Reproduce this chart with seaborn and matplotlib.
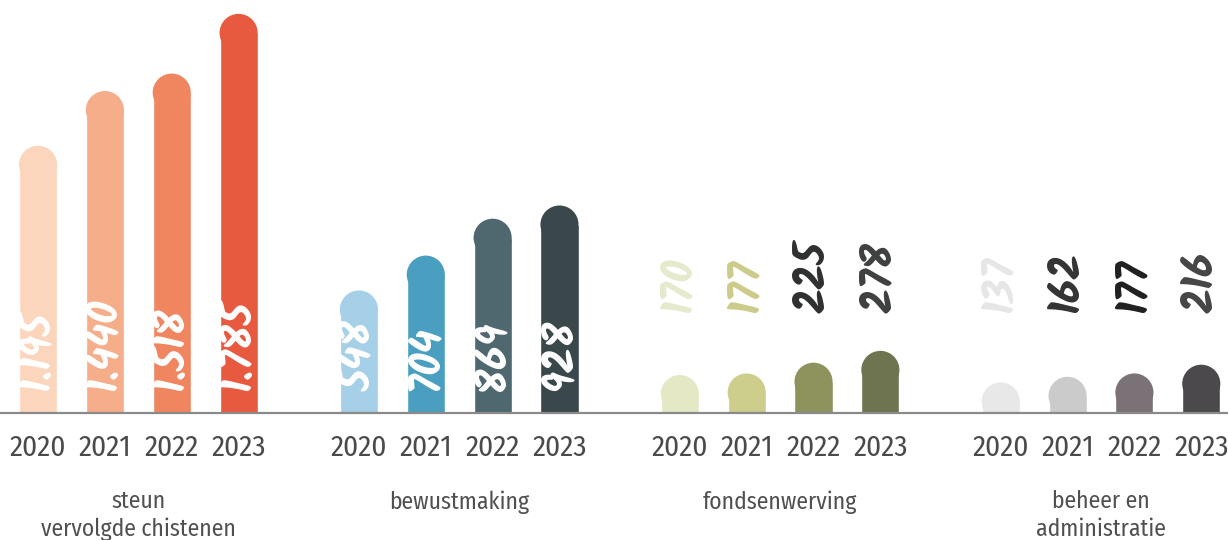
import numpy as np
import pandas as pd
import matplotlib.pyplot as plt
import seaborn as sns
from matplotlib.patches import Ellipse

# --- Data ---
groups = ["steun\nvervolgde chistenen", "bewustmaking", "fondsenwerving", "beheer en\nadministratie"]
years = ["2020", "2021", "2022", "2023"]
steun = [1195, 1440, 1518, 1785]
bewustmaking = [548, 704, 869, 928]
fondsenwerving = [170, 177, 225, 278]
beheer = [137, 162, 177, 216]
value_labels = [
    ["1.195", "1.440", "1.518", "1.785"],
    ["548", "704", "869", "928"],
    ["170", "177", "225", "278"],
    ["137", "162", "177", "216"],
]

bar_colors = [
    ["#fbd5bc", "#f6ad8a", "#ef8660", "#e85a40"],
    ["#a6cfe8", "#4a9fc0", "#4f676f", "#3a474b"],
    ["#e4e8c4", "#cdcd8c", "#8e935e", "#6e7450"],
    ["#e8e8e8", "#cbcbcb", "#7a7276", "#4b494b"],
]
label_colors = [
    ["white"] * 4,
    ["white"] * 4,
    ["#e6eacc", "#cccb8a", "#2e3030", "#3e4040"],
    ["#e6e6e6", "#333333", "#1f1f1f", "#454545"],
]

# --- Layout ---
group_step = 4.8
bar_width = 0.57
inside_labels = [True, True, False, False]

rows = []
for g, vals in enumerate([steun, bewustmaking, fondsenwerving, beheer]):
    for i, v in enumerate(vals):
        rows.append({"pos": g * group_step + i, "value": v, "key": f"{g}-{i}",
                     "color": bar_colors[g][i], "label": value_labels[g][i],
                     "lcolor": label_colors[g][i], "inside": inside_labels[g],
                     "year": years[i]})
df = pd.DataFrame(rows)

sns.set_theme(style="white")
narrow = ["Fira Sans Condensed", "DejaVu Sans"]
hand = ["Kalam", "DejaVu Sans"]
plt.rcParams["font.family"] = narrow

fig = plt.figure(figsize=(12.28, 5.4), dpi=100)
ax = fig.add_axes([0, 127 / 540, 1, 413 / 540])

sns.barplot(data=df, x="pos", y="value", hue="key",
            palette=dict(zip(df["key"], df["color"])),
            native_scale=True, width=bar_width, dodge=False,
            saturation=1, legend=False, ax=ax)

ax.set_xlim(-0.569, 17.80)
ax.set_ylim(0, 1847)
sns.despine(ax=ax, left=True, bottom=True)
ax.set_yticks([])
ax.set_xlabel("")
ax.set_ylabel("")

# rounded tops: convert half bar width to y data units
fig.canvas.draw()
x_px = ax.transData.transform([[0, 0], [1, 0]])
y_px = ax.transData.transform([[0, 0], [0, 1]])
px_per_x = x_px[1, 0] - x_px[0, 0]
px_per_y = y_px[1, 1] - y_px[0, 1]

for p in list(ax.patches):
    x0, w, h = p.get_x(), p.get_width(), p.get_height()
    r = (w / 2) * px_per_x / px_per_y
    p.set_height(h - r)
    ax.add_patch(Ellipse((x0 + w / 2, h - r), w, 2 * r,
                         facecolor=p.get_facecolor(), edgecolor="none"))

# baseline
ax.axhline(0, color="#8a8a8a", lw=1.6, clip_on=False, zorder=5)

# value labels
units_per_px = 1 / px_per_y
for _, row in df.iterrows():
    y = (22 if row["inside"] else 100) * units_per_px
    ax.text(row["pos"], y, row["label"], rotation=90, ha="center", va="bottom",
            color=row["lcolor"], fontsize=31, fontweight="bold",
            family=hand, zorder=6)

# year tick labels
ax.set_xticks(df["pos"], df["year"])
ax.tick_params(axis="x", length=0, pad=15, labelsize=21, labelcolor="#4a4a4a")

# group labels
for g, name in enumerate(groups):
    ax.text(g * group_step + 1.5, -77 / 413, name, transform=ax.get_xaxis_transform(),
            ha="center", va="top", fontsize=17, color="#505050", linespacing=1.25)

fig.savefig("out.png", dpi=100)
